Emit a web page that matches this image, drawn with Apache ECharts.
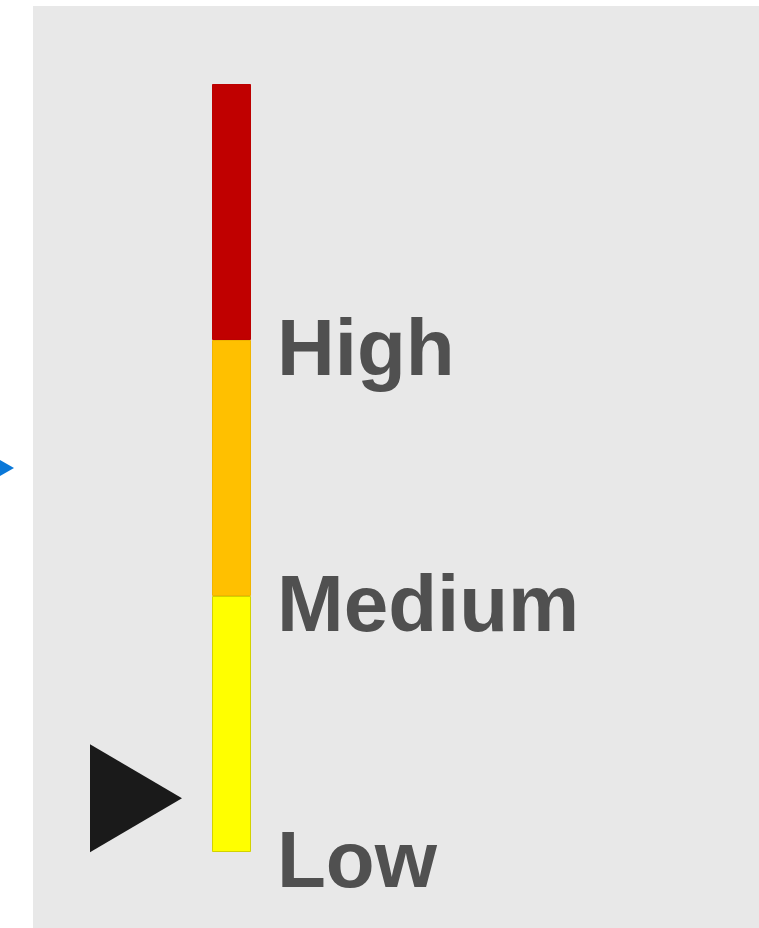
<!DOCTYPE html>
<html>
<head>
<meta charset="utf-8">
<script src="https://cdn.jsdelivr.net/npm/echarts@6/dist/echarts.min.js"></script>
<style>
  html, body { margin: 0; padding: 0; background: #fff; }
  #main { width: 759px; height: 928px; }
</style>
</head>
<body>
<div id="main"></div>
<script>
// level bands, bottom to top
var levelNames = ['Low', 'Medium', 'High'];
var bandSizes = [1, 1, 1];
var levelColors = ['#ffff00', '#ffc000', '#c00000'];
var levelBorders = ['#d2d200', '#f0b400', '#bb0000'];
// pointer values on the same 0..3 scale
var currentValue = [0.21];
var targetValue = [1.5];

var chart = echarts.init(document.getElementById('main'));

var yBase = {
    type: 'value',
    min: 0,
    max: 3,
    interval: 1,
    axisLine: { show: false },
    axisTick: { show: false },
    splitLine: { show: false },
    axisLabel: { show: false }
};

var bars = levelNames.map(function (name, i) {
    return {
        name: name,
        type: 'bar',
        stack: 'level',
        xAxisIndex: 0,
        yAxisIndex: 0,
        barWidth: '100%',
        itemStyle: {
            color: levelColors[i],
            borderColor: levelBorders[i],
            borderWidth: 1
        },
        data: [bandSizes[i]]
    };
});

var option = {
    animation: false,
    graphic: [{
        type: 'rect',
        left: 33,
        top: 6,
        shape: { width: 726, height: 922 },
        style: { fill: '#e8e8e8' },
        z: -10
    }],
    grid: [
        { left: 212, top: 84, width: 39, height: 768 },
        { left: 90, top: 84, width: 92, height: 768 },
        { left: 0, top: 84, width: 14, height: 768 }
    ],
    xAxis: [0, 1, 2].map(function (g) {
        return { type: 'category', gridIndex: g, data: ['v'], show: false };
    }),
    yAxis: [
        Object.assign({}, yBase, {
            gridIndex: 0,
            position: 'right',
            axisLabel: {
                show: true,
                margin: 26,
                formatter: function (v) {
                    return levelNames[v] ? '{lvl|' + levelNames[v] + '}' : '';
                },
                rich: {
                    lvl: {
                        padding: [26, 0, 0, 0],
                        color: '#505050',
                        fontFamily: 'Liberation Sans',
                        fontWeight: 'bold',
                        fontSize: 80
                    }
                }
            }
        }),
        Object.assign({}, yBase, { gridIndex: 1 }),
        Object.assign({}, yBase, { gridIndex: 2 })
    ],
    series: bars.concat([
        {
            name: 'Current',
            type: 'scatter',
            xAxisIndex: 1,
            yAxisIndex: 1,
            symbol: 'path://M0,0 L92,54 L0,108 Z',
            symbolSize: [92, 108],
            itemStyle: { color: '#1a1a1a', opacity: 1 },
            data: currentValue
        },
        {
            name: 'Target',
            type: 'scatter',
            xAxisIndex: 2,
            yAxisIndex: 2,
            symbol: 'path://M0,0 L14,8 L0,16 Z',
            symbolSize: [14, 16],
            itemStyle: { color: '#0a78d8', opacity: 1 },
            data: targetValue
        }
    ])
};

chart.setOption(option);
</script>
</body>
</html>
